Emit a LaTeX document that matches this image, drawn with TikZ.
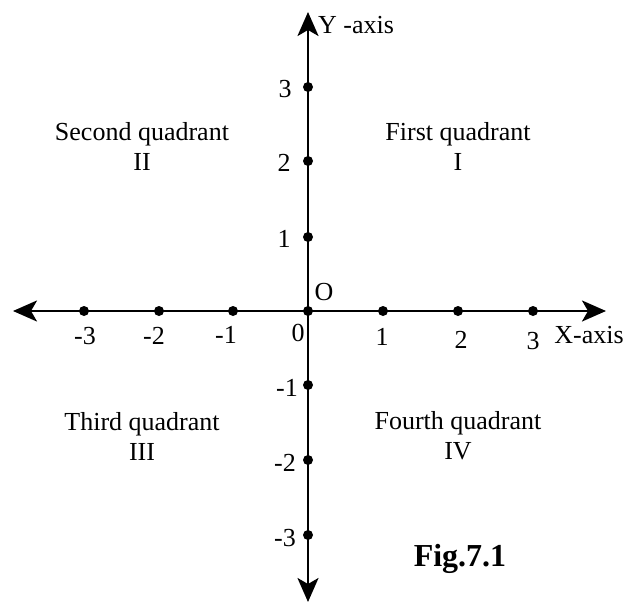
\documentclass[tikz,border=0pt]{standalone}
\usepackage{fontspec}
\setmainfont{Liberation Serif}
\usetikzlibrary{arrows.meta}
\begin{document}
\begin{tikzpicture}[x=1pt,y=-1pt,
  lbl/.style={inner sep=0pt,font=\fontsize{26}{30}\selectfont},
  axis/.style={line width=2.4pt,-{Stealth[length=24pt,width=21pt,inset=6pt]}},
  dot/.style={circle,fill=black,inner sep=0pt,minimum size=10pt}]
\useasboundingbox (0,0) rectangle (629,602);
\coordinate (O) at (308,311);
\coordinate (xl) at (13,311);
\coordinate (xr) at (606,311);
\coordinate (yt) at (308,12);
\coordinate (yb) at (308,602);
\draw[axis] (O) -- (xl);
\draw[axis] (O) -- (xr);
\draw[axis] (O) -- (yt);
\draw[axis] (O) -- (yb);
% dots
\foreach \n/\x in {m3/84,m2/159,m1/233,z/308,p1/383,p2/458,p3/533}
  \node[dot] (dx\n) at (\x,311) {};
\foreach \n/\y in {p3/87,p2/161,p1/237,m1/385,m2/460,m3/535}
  \node[dot] (dy\n) at (308,\y) {};
% x labels
\node[lbl] (lxm3) at (85,336) {-3};
\node[lbl] (lxm2) at (154,336) {-2};
\node[lbl] (lxm1) at (226,335) {-1};
\node[lbl] (lx0) at (298,333) {0};
\node[lbl] (lxp1) at (382,337) {1};
\node[lbl] (lxp2) at (461,340) {2};
\node[lbl] (lxp3) at (533,341) {3};
\node[lbl] (xlab) at (589,335) {X-axis};
% y labels
\node[lbl] (lyp3) at (285,89) {3};
\node[lbl] (lyp2) at (284,163) {2};
\node[lbl] (lyp1) at (284,239) {1};
\node[lbl] (lym1) at (287,388) {-1};
\node[lbl] (lym2) at (285,463) {-2};
\node[lbl] (lym3) at (285,538) {-3};
\node[lbl,anchor=west] (ylab) at (318,25) {Y -axis};
\node[lbl] (olab) at (324,292) {O};
% quadrants
\node[lbl,align=center] (q2) at (142,146) {Second quadrant\\II};
\node[lbl,align=center] (q1) at (458,146) {First quadrant\\I};
\node[lbl,align=center] (q3) at (142,436) {Third quadrant\\III};
\node[lbl,align=center] (q4) at (458,436) {Fourth quadrant\\IV};
\node[inner sep=0pt,font=\fontsize{32}{36}\selectfont\bfseries] (fig) at (460,559) {Fig.7.1};
\end{tikzpicture}
\end{document}
